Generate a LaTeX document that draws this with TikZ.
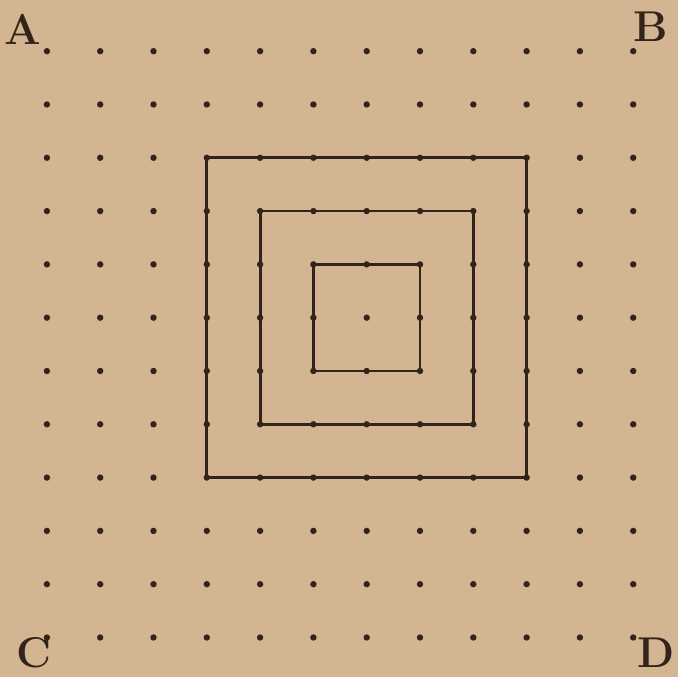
\documentclass[tikz,border=0pt]{standalone}
\usepackage{xcolor}
\definecolor{papel}{RGB}{212,181,146}
\definecolor{tinta}{RGB}{50,36,26}
\usetikzlibrary{positioning}

\begin{document}
\begin{tikzpicture}[
  punto/.style={circle, fill=tinta, inner sep=0pt, minimum size=0.12cm},
  lado/.style={tinta, line width=1.5pt, line join=miter},
  letra/.style={text=tinta, inner sep=0pt, font=\fontsize{23}{23}\selectfont\bfseries}
]
  \fill[papel] (-0.88,-11.74) rectangle (11.84,0.96);
  \useasboundingbox (-0.88,-11.74) rectangle (11.84,0.96);

  % rejilla de puntos
  \foreach \i in {0,...,11}
    \foreach \j in {0,...,11}
      \node[punto] (p-\i-\j) at (\i,-\j) {};

  % cuadrados concentricos
  \draw[lado] (p-3-2.center) -- (p-9-2.center) -- (p-9-8.center) -- (p-3-8.center) -- cycle;
  \draw[lado] (p-4-3.center) -- (p-8-3.center) -- (p-8-7.center) -- (p-4-7.center) -- cycle;
  \draw[lado] (p-5-4.center) -- (p-7-4.center) -- (p-7-6.center) -- (p-5-6.center) -- cycle;

  \node[letra] (a) at (-0.45,0.41) {A};
  \node[letra] (b) at (11.33,0.45) {B};
  \node[letra] (c) at (-0.24,-11.28) {C};
  \node[letra] (d) at (11.42,-11.28) {D};
\end{tikzpicture}
\end{document}
